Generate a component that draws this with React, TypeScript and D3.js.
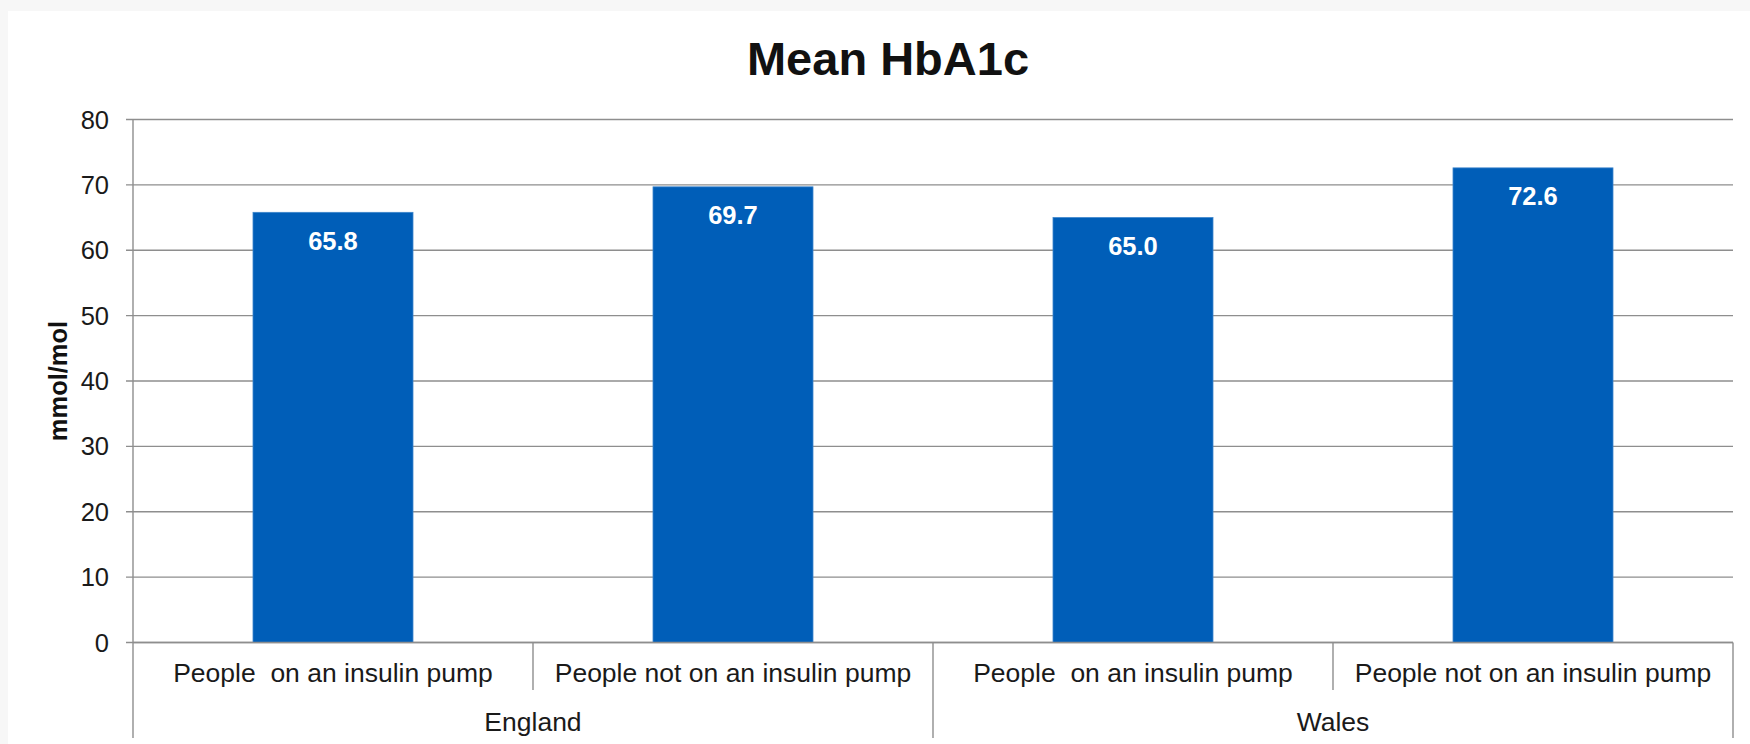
import React from "react";
import * as d3 from "d3";

const categories = [
  "People  on an insulin pump",
  "People not on an insulin pump",
  "People  on an insulin pump",
  "People not on an insulin pump",
];
const groups = ["England", "Wales"];
const groupOf = [0, 0, 1, 1];
const values = [65.8, 69.7, 65.0, 72.6];
const yTicks = [0, 10, 20, 30, 40, 50, 60, 70, 80];

const W = 1750;
const H = 744;
const plotL = 133;
const plotR = 1733;
const plotT = 119.5;
const plotB = 642.5;
const font = "Liberation Sans, Arial, sans-serif";

export default function App() {
  const x = d3.scaleBand<number>().domain(d3.range(categories.length)).range([plotL, plotR]).padding(0);
  const y = d3.scaleLinear().domain([0, 80]).range([plotB, plotT]);
  const bw = x.bandwidth() * 0.4;
  const grid = "#8e8e8e";
  const groupSpan = groups.map((g, gi) => {
    const idx = d3.range(categories.length).filter((i) => groupOf[i] === gi);
    const x0 = x(idx[0])!;
    const x1 = x(idx[idx.length - 1])! + x.bandwidth();
    return { g, x0, x1 };
  });
  return (
    <svg width={W} height={H} style={{ position: "absolute", left: 0, top: 0 }} fontFamily={font}>
      <rect x={0} y={0} width={W} height={H} fill="#f7f7f7" />
      <rect x={8} y={11} width={W - 8} height={H - 11} fill="#ffffff" />
      <text x={888} y={75} textAnchor="middle" fontSize={47} fontWeight="bold" fill="#111">
        Mean HbA1c
      </text>
      {yTicks.map((t) => (
        <g key={t}>
          <line x1={plotL - 7} x2={plotR} y1={y(t)} y2={y(t)} stroke={grid} strokeWidth={1.4} />
          <text x={109} y={y(t) + 9} textAnchor="end" fontSize={25.5} fill="#1a1a1a">
            {t}
          </text>
        </g>
      ))}
      <line x1={plotL} x2={plotL} y1={plotT} y2={plotB} stroke={grid} strokeWidth={1.4} />
      <text
        transform={`translate(58,${(plotT + plotB) / 2}) rotate(-90)`}
        textAnchor="middle"
        dominantBaseline="central"
        fontSize={25.5}
        fontWeight="bold"
        fill="#111"
      >
        mmol/mol
      </text>
      {values.map((v, i) => {
        const cx = x(i)! + x.bandwidth() / 2;
        return (
          <g key={i}>
            <rect x={cx - bw / 2} y={y(v)} width={bw} height={plotB - y(v)} fill="#005eb8" stroke="#3d86cc" strokeWidth={0.8} />
            <text x={cx} y={y(v) + 37.5} textAnchor="middle" fontSize={25.5} fontWeight="bold" fill="#ffffff">
              {v.toFixed(1)}
            </text>
          </g>
        );
      })}
      <line x1={plotL} x2={plotR} y1={plotB} y2={plotB} stroke={grid} strokeWidth={1.4} />
      {categories.map((c, i) => {
        const cx = x(i)! + x.bandwidth() / 2;
        return (
          <text key={i} x={cx} y={682} textAnchor="middle" fontSize={26.5} fill="#1a1a1a">
            {c.replace(/ /g, "\u00a0")}
          </text>
        );
      })}
      {d3.range(1, categories.length).filter((i) => groupOf[i] === groupOf[i - 1]).map((i) => (
        <line key={i} x1={x(i)!} x2={x(i)!} y1={plotB} y2={690} stroke={grid} strokeWidth={1.4} />
      ))}
      {[plotL, ...groupSpan.map((s) => s.x1)].map((xx, i) => (
        <line key={i} x1={xx} x2={xx} y1={plotB} y2={738} stroke={grid} strokeWidth={1.4} />
      ))}
      {groupSpan.map((s) => (
        <text key={s.g} x={(s.x0 + s.x1) / 2} y={731} textAnchor="middle" fontSize={26.5} fill="#1a1a1a">
          {s.g}
        </text>
      ))}
    </svg>
  );
}
